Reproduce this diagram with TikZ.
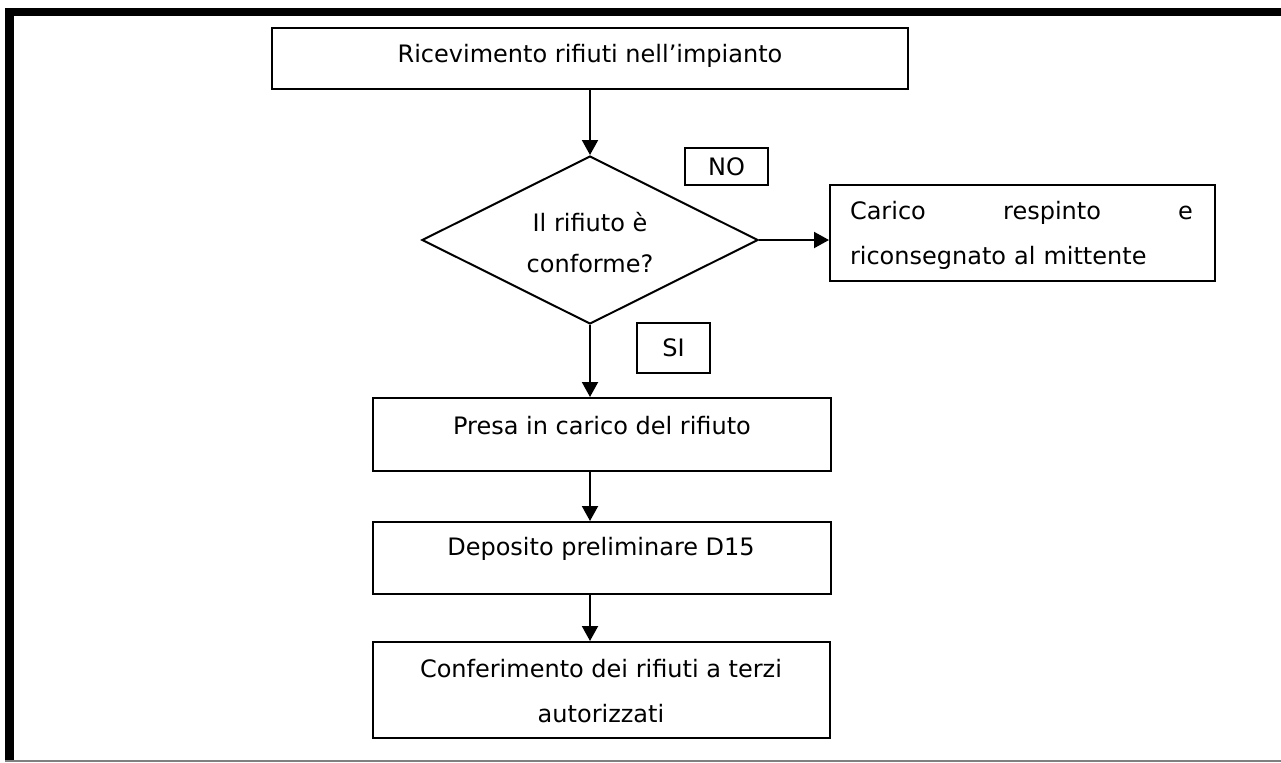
\documentclass[tikz,border=0pt]{standalone}
\usepackage{fontspec}
\setmainfont{DejaVu Sans}
\usetikzlibrary{shapes.geometric,arrows.meta}
\begin{document}
\begin{tikzpicture}[x=0.5pt,y=-0.5pt,
  box/.style={draw, line width=1pt, rectangle, inner sep=0pt},
  lbl/.style={inner sep=0pt, font=\fontsize{12pt}{22.5pt}\selectfont, align=center},
  arr/.style={line width=1pt, -{Triangle[length=7.5pt,width=8pt]}}]
\useasboundingbox (0,0) rectangle (1281,762);
% frame
\fill (5,8) rectangle (1281,16);
\fill (5,8) rectangle (14,762);
\draw[gray, line width=1pt] (5,761) -- (1281,761);
% boxes
\node[box, minimum width=318pt, minimum height=30.5pt] (top) at (590,58.5) {};
\node[lbl] (toptext) at (590,56) {Ricevimento rifiuti nell’impianto};
\node[draw, diamond, line width=1pt, minimum width=168pt, minimum height=84pt, inner sep=0pt] (dec) at (590,240) {};
\node[lbl, font=\fontsize{12pt}{20.5pt}\selectfont] (dectext) at (590,243) {Il rifiuto è\\conforme?};
\node[box, lbl, minimum width=41.5pt, minimum height=18.5pt] (no) at (726.5,166.5) {NO};
\node[box, minimum width=192.5pt, minimum height=48pt] (rej) at (1022.5,233) {};
\node[lbl, text width=171.5pt, align=left] (rejtext) at (1021.5,235) {Carico\hfill respinto\hfill e\\riconsegnato al mittente};
\node[box, lbl, minimum width=36.5pt, minimum height=25pt] (si) at (673.5,348) {SI};
\node[box, minimum width=229pt, minimum height=36.5pt] (presa) at (602,434.5) {};
\node[lbl] (presatext) at (602,426) {Presa in carico del rifiuto};
\node[box, minimum width=229pt, minimum height=36pt] (depo) at (602,558) {};
\node[lbl] (depotext) at (601,549) {Deposito preliminare D15};
\node[box, minimum width=228.5pt, minimum height=48pt] (conf) at (601.5,690) {};
\node[lbl] (conftext) at (601,691.5) {Conferimento dei rifiuti a terzi\\autorizzati};
% arrows
\draw[arr] (top.south) -- (dec.north);
\draw[arr] (dec.east) -- (dec.east -| rej.west);
\draw[arr] (dec.south) -- (dec.south |- presa.north);
\draw[arr] (presa.south -| dec.south) -- (depo.north -| dec.south);
\draw[arr] (depo.south -| dec.south) -- (conf.north -| dec.south);
\end{tikzpicture}
\end{document}
